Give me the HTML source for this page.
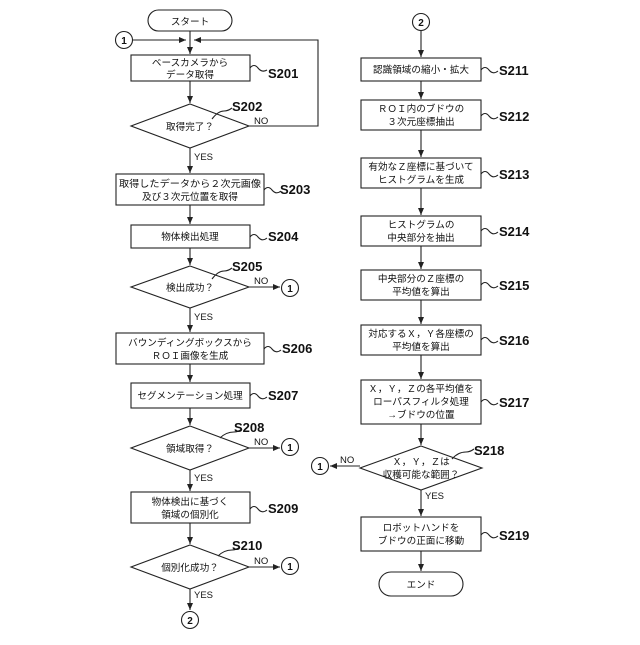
<!DOCTYPE html>
<html><head><meta charset="utf-8"><style>
html,body{margin:0;padding:0;background:#fff;}
svg text{font-family:"Liberation Sans","Noto Sans CJK JP",sans-serif;fill:#111;}
.t{font-size:9.6px;text-anchor:middle;}
.l{font-size:13px;font-weight:bold;}
.s{font-size:9.5px;}
.c{font-size:10px;font-weight:bold;text-anchor:middle;}
</style></head><body>
<svg width="640" height="640" viewBox="0 0 640 640" xmlns="http://www.w3.org/2000/svg">
<defs><marker id="a" markerWidth="8" markerHeight="8" refX="7" refY="4" orient="auto" markerUnits="userSpaceOnUse"><path d="M0,1 L7,4 L0,7 Z" fill="#222"/></marker></defs>
<g stroke="#222" stroke-width="1.1" fill="none">
<rect x="148" y="10" width="84" height="21" rx="10.5"/>
<circle cx="124" cy="40" r="8.5"/>
<line x1="190" y1="31" x2="190" y2="54" marker-end="url(#a)"/>
<line x1="133" y1="40" x2="186" y2="40" marker-end="url(#a)"/>
<polyline points="249,126 318,126 318,40 194,40" marker-end="url(#a)"/>
<rect x="131" y="55" width="119" height="26"/>
<line x1="190" y1="81" x2="190" y2="103" marker-end="url(#a)"/>
<polygon points="190,104 249,126 190,148 131,126"/>
<line x1="190" y1="148" x2="190" y2="173" marker-end="url(#a)"/>
<rect x="116" y="174" width="148" height="31"/>
<line x1="190" y1="205" x2="190" y2="224" marker-end="url(#a)"/>
<rect x="131" y="225" width="119" height="23"/>
<line x1="190" y1="248" x2="190" y2="265" marker-end="url(#a)"/>
<polygon points="190,266 249,287 190,308 131,287"/>
<line x1="249" y1="287" x2="280" y2="287" marker-end="url(#a)"/>
<circle cx="290" cy="288" r="8.5"/>
<line x1="190" y1="308" x2="190" y2="332" marker-end="url(#a)"/>
<rect x="116" y="333" width="148" height="31"/>
<line x1="190" y1="364" x2="190" y2="382" marker-end="url(#a)"/>
<rect x="131" y="383" width="119" height="25"/>
<line x1="190" y1="408" x2="190" y2="425" marker-end="url(#a)"/>
<polygon points="190,426 249,448 190,470 131,448"/>
<line x1="249" y1="448" x2="280" y2="448" marker-end="url(#a)"/>
<circle cx="290" cy="447" r="8.5"/>
<line x1="190" y1="470" x2="190" y2="491" marker-end="url(#a)"/>
<rect x="131" y="492" width="119" height="31"/>
<line x1="190" y1="523" x2="190" y2="544" marker-end="url(#a)"/>
<polygon points="190,545 249,567 190,589 131,567"/>
<line x1="249" y1="567" x2="280" y2="567" marker-end="url(#a)"/>
<circle cx="290" cy="566" r="8.5"/>
<line x1="190" y1="589" x2="190" y2="610" marker-end="url(#a)"/>
<circle cx="190" cy="620" r="8.5"/>
<circle cx="421" cy="22" r="8.5"/>
<line x1="421" y1="31" x2="421" y2="57" marker-end="url(#a)"/>
<rect x="361" y="58" width="120" height="23"/>
<line x1="421" y1="81" x2="421" y2="99" marker-end="url(#a)"/>
<rect x="361" y="100" width="120" height="30"/>
<line x1="421" y1="130" x2="421" y2="157" marker-end="url(#a)"/>
<rect x="361" y="158" width="120" height="30"/>
<line x1="421" y1="188" x2="421" y2="215" marker-end="url(#a)"/>
<rect x="361" y="216" width="120" height="30"/>
<line x1="421" y1="246" x2="421" y2="269" marker-end="url(#a)"/>
<rect x="361" y="270" width="120" height="30"/>
<line x1="421" y1="300" x2="421" y2="324" marker-end="url(#a)"/>
<rect x="361" y="325" width="120" height="30"/>
<line x1="421" y1="355" x2="421" y2="379" marker-end="url(#a)"/>
<rect x="361" y="380" width="120" height="44"/>
<line x1="421" y1="424" x2="421" y2="445" marker-end="url(#a)"/>
<polygon points="421,446 482,468 421,490 360,468"/>
<line x1="360" y1="466" x2="330" y2="466" marker-end="url(#a)"/>
<circle cx="320" cy="466" r="8.5"/>
<line x1="421" y1="490" x2="421" y2="516" marker-end="url(#a)"/>
<rect x="361" y="517" width="120" height="34"/>
<line x1="421" y1="551" x2="421" y2="571" marker-end="url(#a)"/>
<rect x="379" y="572" width="84" height="24" rx="12"/>
<path d="M250,68 q4,-5 8,0 q4,5 9,2"/>
<path d="M212,119 q6,-8 12,-8 q4,0 8,-3"/>
<path d="M264,190 q4,-5 8,0 q4,5 9,1"/>
<path d="M250,237 q4,-5 8,0 q4,5 9,1"/>
<path d="M212,279 q6,-8 12,-8 q4,0 8,-3"/>
<path d="M264,349 q4,-5 8,0 q4,5 9,1"/>
<path d="M250,396 q4,-5 8,0 q4,5 9,1"/>
<path d="M220,438 q6,-6 14,-6 q4,0 8,-3"/>
<path d="M250,509 q4,-5 8,0 q4,5 9,1"/>
<path d="M218,556 q6,-6 14,-6 q4,0 8,-3"/>
<path d="M481,70 q4,-5 8,0 q4,5 9,1"/>
<path d="M481,116 q4,-5 8,0 q4,5 9,1"/>
<path d="M481,174 q4,-5 8,0 q4,5 9,1"/>
<path d="M481,231 q4,-5 8,0 q4,5 9,1"/>
<path d="M481,285 q4,-5 8,0 q4,5 9,1"/>
<path d="M481,340 q4,-5 8,0 q4,5 9,1"/>
<path d="M481,402 q4,-5 8,0 q4,5 9,1"/>
<path d="M452,459 q6,-7 14,-7 q4,0 8,-3"/>
<path d="M481,535 q4,-5 8,0 q4,5 9,1"/>
</g>
<text class="t" x="190" y="25">スタート</text>
<text class="c" x="124" y="44">1</text>
<text class="t" x="190" y="66">ベースカメラから</text>
<text class="t" x="190" y="78">データ取得</text>
<text class="l" x="268" y="78">S201</text>
<text class="l" x="232" y="111">S202</text>
<text class="t" x="190" y="130">取得完了？</text>
<text class="s" x="254" y="124">NO</text>
<text class="s" x="194" y="160">YES</text>
<text class="t" x="190" y="187" textLength="142" lengthAdjust="spacingAndGlyphs">取得したデータから２次元画像</text>
<text class="t" x="190" y="200">及び３次元位置を取得</text>
<text class="l" x="280" y="194">S203</text>
<text class="t" x="190" y="240">物体検出処理</text>
<text class="l" x="268" y="241">S204</text>
<text class="l" x="232" y="271">S205</text>
<text class="t" x="190" y="291">検出成功？</text>
<text class="s" x="254" y="284">NO</text>
<text class="c" x="290" y="292">1</text>
<text class="s" x="194" y="320">YES</text>
<text class="t" x="190" y="346">バウンディングボックスから</text>
<text class="t" x="190" y="359">ＲＯＩ画像を生成</text>
<text class="l" x="282" y="353">S206</text>
<text class="t" x="190" y="399">セグメンテーション処理</text>
<text class="l" x="268" y="400">S207</text>
<text class="l" x="234" y="432">S208</text>
<text class="t" x="190" y="452">領域取得？</text>
<text class="s" x="254" y="445">NO</text>
<text class="c" x="290" y="451">1</text>
<text class="s" x="194" y="481">YES</text>
<text class="t" x="190" y="505">物体検出に基づく</text>
<text class="t" x="190" y="518">領域の個別化</text>
<text class="l" x="268" y="513">S209</text>
<text class="l" x="232" y="550">S210</text>
<text class="t" x="190" y="571">個別化成功？</text>
<text class="s" x="254" y="564">NO</text>
<text class="c" x="290" y="570">1</text>
<text class="s" x="194" y="598">YES</text>
<text class="c" x="190" y="624">2</text>
<text class="c" x="421" y="26">2</text>
<text class="t" x="421" y="73">認識領域の縮小・拡大</text>
<text class="l" x="499" y="75">S211</text>
<text class="t" x="421" y="112">ＲＯＩ内のブドウの</text>
<text class="t" x="421" y="125">３次元座標抽出</text>
<text class="l" x="499" y="121">S212</text>
<text class="t" x="421" y="170">有効なＺ座標に基づいて</text>
<text class="t" x="421" y="183">ヒストグラムを生成</text>
<text class="l" x="499" y="179">S213</text>
<text class="t" x="421" y="228">ヒストグラムの</text>
<text class="t" x="421" y="241">中央部分を抽出</text>
<text class="l" x="499" y="236">S214</text>
<text class="t" x="421" y="282">中央部分のＺ座標の</text>
<text class="t" x="421" y="295">平均値を算出</text>
<text class="l" x="499" y="290">S215</text>
<text class="t" x="421" y="337">対応するＸ，Ｙ各座標の</text>
<text class="t" x="421" y="350">平均値を算出</text>
<text class="l" x="499" y="345">S216</text>
<text class="t" x="421" y="392">Ｘ，Ｙ，Ｚの各平均値を</text>
<text class="t" x="421" y="405">ローパスフィルタ処理</text>
<text class="t" x="421" y="418">→ブドウの位置</text>
<text class="l" x="499" y="407">S217</text>
<text class="l" x="474" y="455">S218</text>
<text class="t" x="421" y="465">Ｘ，Ｙ，Ｚは</text>
<text class="t" x="421" y="478">収穫可能な範囲？</text>
<text class="s" x="340" y="463">NO</text>
<text class="c" x="320" y="470">1</text>
<text class="s" x="425" y="499">YES</text>
<text class="t" x="421" y="531">ロボットハンドを</text>
<text class="t" x="421" y="544">ブドウの正面に移動</text>
<text class="l" x="499" y="540">S219</text>
<text class="t" x="421" y="588">エンド</text>
</svg>
</body></html>
